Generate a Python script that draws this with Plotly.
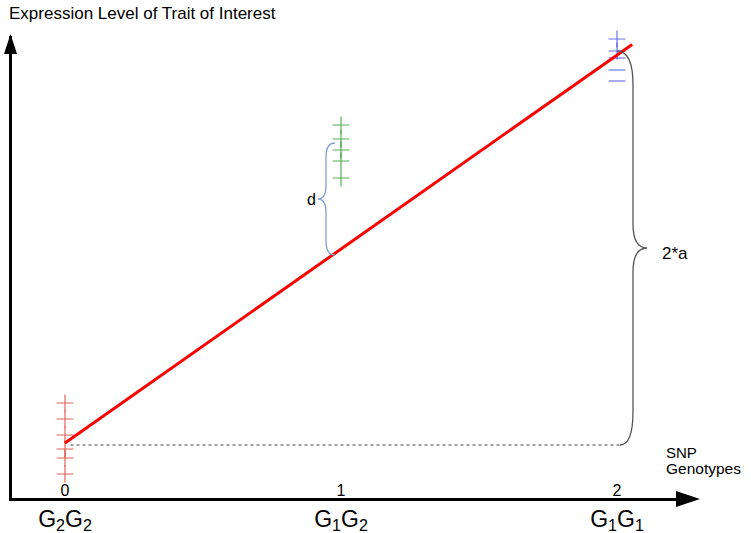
import plotly.graph_objects as go

# ---------------- data ----------------
genotype_pos = [0, 1, 2]
genotype_num = ["0", "1", "2"]
genotype_labels = ["G<sub>2</sub>G<sub>2</sub>", "G<sub>1</sub>G<sub>2</sub>", "G<sub>1</sub>G<sub>1</sub>"]

g22_x = [0, 0, 0, 0, 0, 0]
g22_y = [24.25, 20.25, 16.25, 12.75, 10.5, 6.5]
g12_x = [1, 1, 1, 1, 1]
g12_y = [93.75, 90.25, 87.5, 84.75, 80.5]
g11_x = [2, 2, 2, 2, 2]
g11_y = [115.25, 112.25, 110.5, 107.5, 104.75]
g11_symbols = ["cross-thin", "cross-thin", "line-ew", "line-ew", "line-ew"]

fit_x = [0, 2.055]
fit_y = [14.25, 113.9]

base_x = [0.02, 2.01]
base_y = [13.75, 13.75]

# brace extents (data units): d between heterozygote mean and fit; 2a between homozygotes
d_brace_y = [61.25, 89.25]
a_brace_y = [13.75, 112.25]

# ---------------- geometry helpers ----------------
W, H = 751, 533
L, R, T, B = 12, 690, 36, 498     # plot area in pixels
PX_PER_X = 276.0
X0_PX = 65.0
xr0 = -(X0_PX - L) / PX_PER_X
xr1 = xr0 + (R - L) / PX_PER_X
yr0 = (500 - B) / 4.0
yr1 = (500 - T) / 4.0

def pxx(p):
    return (p - L) / (R - L)

def pxy(p):
    return (B - p) / (B - T)

def brace_path(xe_top, xe_bot, xv, xt, yb, yt, r_end, r_tip):
    ym = (yb + yt) / 2.0
    return (f"M {xe_top},{yt} Q {xv},{yt} {xv},{yt - r_end} "
            f"L {xv},{ym + r_tip} Q {xv},{ym} {xt},{ym} "
            f"Q {xv},{ym} {xv},{ym - r_tip} "
            f"L {xv},{yb + r_end} Q {xv},{yb} {xe_bot},{yb}")

FONT = "Liberation Sans, Arial, sans-serif"

fig = go.Figure()

fig.add_trace(go.Scatter(x=base_x, y=base_y, mode="lines",
                         line=dict(color="#444444", width=1, dash="dot"),
                         hoverinfo="skip"))
fig.add_trace(go.Scatter(x=g22_x, y=g22_y, mode="markers",
                         marker=dict(symbol="cross-thin", size=12,
                                     line=dict(color="rgba(225,70,60,0.85)", width=1.2)),
                         cliponaxis=False))
fig.add_trace(go.Scatter(x=g12_x, y=g12_y, mode="markers",
                         marker=dict(symbol="cross-thin", size=12,
                                     line=dict(color="rgba(60,160,60,0.85)", width=1.2)),
                         cliponaxis=False))
fig.add_trace(go.Scatter(x=g11_x, y=g11_y, mode="markers",
                         marker=dict(symbol=g11_symbols, size=12,
                                     line=dict(color="rgba(80,90,240,0.85)", width=1.2)),
                         cliponaxis=False))
fig.add_trace(go.Scatter(x=fit_x, y=fit_y, mode="lines",
                         line=dict(color="#ff0000", width=3), cliponaxis=False))
# dummy trace for numeric axis
fig.add_trace(go.Scatter(x=genotype_pos, y=[None, None, None], xaxis="x2",
                         mode="markers", showlegend=False, hoverinfo="skip"))

shapes = [
    # d brace
    dict(type="path", xref="x", yref="y",
         path=brace_path(0.978, 0.978, 0.9457, 0.9167, d_brace_y[0], d_brace_y[1], 3.5, 3.5),
         line=dict(color="#7f9fd3", width=1.3)),
    # 2a brace
    dict(type="path", xref="x", yref="y",
         path=brace_path(2.0, 2.011, 2.058, 2.109, a_brace_y[0], a_brace_y[1], 8.5, 6.0),
         line=dict(color="#555555", width=1.3)),
    # x arrowhead
    dict(type="path", xref="paper", yref="paper", xsizemode="pixel", ysizemode="pixel",
         xanchor=1, yanchor=0, path="M 10,-1 L -14,7 L -14,-9 Z",
         fillcolor="black", line=dict(color="black", width=0)),
    # y arrowhead
    dict(type="path", xref="paper", yref="paper", xsizemode="pixel", ysizemode="pixel",
         xanchor=0, yanchor=1, path="M -1.5,2 L -8,-18 L 5,-18 Z",
         fillcolor="black", line=dict(color="black", width=0)),
]

annotations = [
    dict(text="Expression Level of Trait of Interest", xref="paper", yref="paper",
         x=pxx(7), y=pxy(14), xanchor="left", yanchor="middle", showarrow=False,
         font=dict(size=17, color="black", family=FONT)),
    dict(text="d", xref="paper", yref="paper", x=pxx(311), y=pxy(199),
         xanchor="center", yanchor="middle", showarrow=False,
         font=dict(size=16, color="black", family=FONT)),
    dict(text="2*a", xref="paper", yref="paper", x=pxx(660), y=pxy(253),
         xanchor="left", yanchor="middle", showarrow=False,
         font=dict(size=17, color="black", family=FONT)),
    dict(text="SNP", xref="paper", yref="paper", x=pxx(664), y=pxy(452),
         xanchor="left", yanchor="middle", showarrow=False,
         font=dict(size=15, color="black", family=FONT)),
    dict(text="Genotypes", xref="paper", yref="paper", x=pxx(664), y=pxy(468),
         xanchor="left", yanchor="middle", showarrow=False,
         font=dict(size=15.5, color="black", family=FONT)),
]

fig.update_layout(
    width=W, height=H,
    margin=dict(l=L, r=W - R, t=T, b=H - B, pad=0, autoexpand=False),
    paper_bgcolor="white", plot_bgcolor="white",
    showlegend=False,
    font=dict(family=FONT, color="black"),
    xaxis=dict(range=[xr0, xr1], showline=True, linewidth=3, linecolor="black",
               showgrid=False, zeroline=False, ticks="", automargin=False,
               tickvals=genotype_pos, ticktext=genotype_labels,
               ticklabelstandoff=-2,
               tickfont=dict(size=23, family=FONT, color="black")),
    xaxis2=dict(range=[xr0, xr1], overlaying="x", anchor="y", side="bottom",
                showline=False, showgrid=False, zeroline=False, ticks="", automargin=False,
                tickvals=genotype_pos, ticktext=genotype_num,
                ticklabelposition="inside", ticklabelstandoff=-4,
                tickfont=dict(size=16, family=FONT, color="black")),
    yaxis=dict(range=[yr0, yr1], showline=True, linewidth=3, linecolor="black",
               showgrid=False, zeroline=False, ticks="", showticklabels=False,
               automargin=False),
    shapes=shapes,
    annotations=annotations,
)

fig.write_html("out.html", config={"displayModeBar": False},
               post_script="document.body.style.margin='0';document.body.style.overflow='hidden';")
